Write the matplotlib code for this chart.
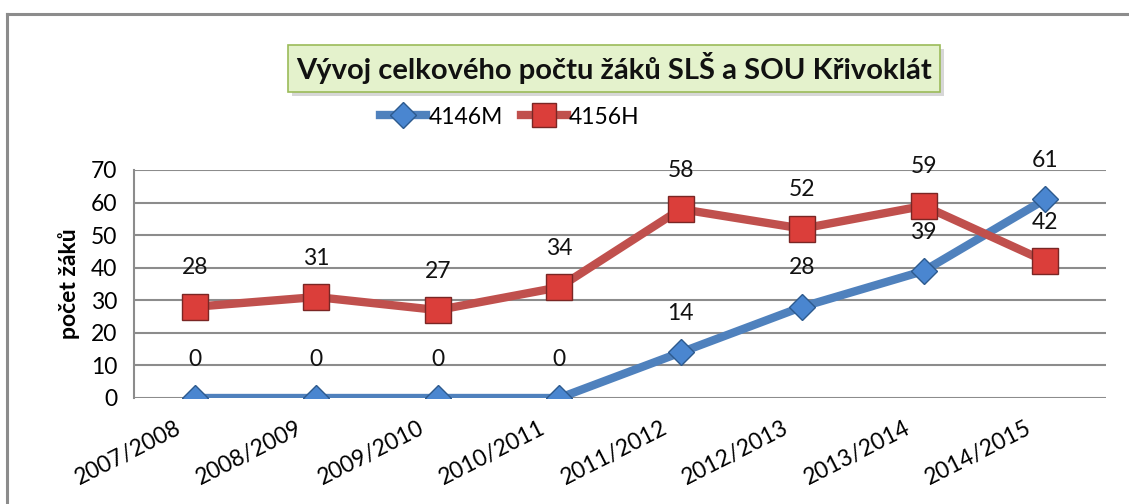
import matplotlib.pyplot as plt
import matplotlib.transforms as mtransforms
from matplotlib.patches import FancyBboxPatch
from matplotlib.lines import Line2D

years = ["2007/2008", "2008/2009", "2009/2010", "2010/2011",
         "2011/2012", "2012/2013", "2013/2014", "2014/2015"]
m4146 = [0, 0, 0, 0, 14, 28, 39, 61]
h4156 = [28, 31, 27, 34, 58, 52, 59, 42]
series_names = ["4146M", "4156H"]
title = "Vývoj celkového počtu žáků SLŠ a SOU Křivoklát"
ylabel = "počet žáků"

plt.rcParams['font.family'] = ['Lato', 'DejaVu Sans']

W, H = 1129, 504
fig = plt.figure(figsize=(W / 100, H / 100), dpi=100)

# outer chart border (only top and left visible)
fig.add_artist(Line2D([7 / W, 1], [1 - 14 / H, 1 - 14 / H], color="#8c8c8c", lw=2.2))
fig.add_artist(Line2D([7 / W, 7 / W], [0, 1 - 14 / H], color="#8c8c8c", lw=2.2))

ax = fig.add_axes([134 / W, (H - 398) / H, 972 / W, 228 / H])
x = list(range(len(years)))

ax.plot(x, m4146, color="#4F81BD", lw=6, marker="D", markersize=13,
        markerfacecolor="#4A86D0", markeredgecolor="#2D5A8E", markeredgewidth=1,
        solid_capstyle="round", zorder=3)
ax.plot(x, h4156, color="#C0504D", lw=6, marker="s", markersize=19,
        markerfacecolor="#DB3E3A", markeredgecolor="#7A2624", markeredgewidth=1,
        solid_capstyle="round", zorder=3)

for xi, v in zip(x, m4146):
    ax.annotate(str(v), (xi, v), xytext=(0, 28), textcoords="offset points",
                ha="center", va="center", fontsize=16.5, color="#111111")
for xi, v in zip(x, h4156):
    ax.annotate(str(v), (xi, v), xytext=(0, 28), textcoords="offset points",
                ha="center", va="center", fontsize=16.5, color="#111111")

ax.set_xlim(-0.5, 7.5)
ax.set_ylim(0, 70)
ax.set_yticks(range(0, 71, 10))
ax.set_xticks(x)
ax.set_xticklabels(years, rotation=27, ha="right", rotation_mode="anchor")
ax.tick_params(axis="x", length=0, labelsize=16.5, pad=14)
ax.tick_params(axis="y", length=0, labelsize=16.5, pad=12)
shift = mtransforms.ScaledTranslation(-0.2, 0, fig.dpi_scale_trans)
for lab in ax.get_xticklabels():
    lab.set_transform(lab.get_transform() + shift)
ax.grid(axis="y", color="#8c8c8c", lw=1.5)
ax.set_axisbelow(True)
for s in ["top", "right", "bottom"]:
    ax.spines[s].set_visible(False)
ax.spines["left"].set_color("#8c8c8c")
ax.spines["left"].set_linewidth(1.5)
ax.set_ylabel(ylabel, fontsize=16.5, fontweight="bold", labelpad=8)

# title box with shadow
shadow = FancyBboxPatch((292 / W, 1 - 96 / H), 652 / W, 47 / H,
                        boxstyle="square,pad=0", transform=fig.transFigure,
                        facecolor="#bdbdbd", edgecolor="none", alpha=0.6)
box = FancyBboxPatch((288 / W, 1 - 92 / H), 652 / W, 47 / H,
                     boxstyle="square,pad=0", transform=fig.transFigure,
                     facecolor="#E4F2CC", edgecolor="#9BBB59", lw=1.2)
fig.add_artist(shadow)
fig.add_artist(box)
fig.text(614 / W, 1 - 68 / H, title, ha="center", va="center",
         fontsize=21, fontweight="bold", color="#111111")

handles = [
    Line2D([], [], color="#4F81BD", lw=6, marker="D", markersize=13,
           markerfacecolor="#4A86D0", markeredgecolor="#2D5A8E"),
    Line2D([], [], color="#C0504D", lw=6, marker="s", markersize=17,
           markerfacecolor="#DB3E3A", markeredgecolor="#7A2624"),
]
fig.legend(handles, series_names, loc="center", bbox_to_anchor=(510 / W, 1 - 117 / H),
           ncol=2, frameon=False, fontsize=16.5, handlelength=2.0, handletextpad=0.1,
           columnspacing=0.8)

fig.savefig("out.png", dpi=100, facecolor="white")
